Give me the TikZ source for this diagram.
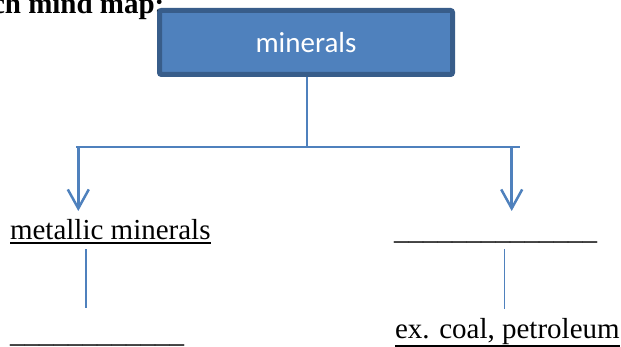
\documentclass[tikz,border=0pt]{standalone}
\usepackage{fontspec}
\setmainfont{Liberation Serif}
\newfontfamily\calibrifont{Carlito}
\usetikzlibrary{arrows.meta}
\definecolor{accent}{HTML}{4F81BD}
\definecolor{accentdark}{HTML}{385D8A}
\newcommand\myul[2][-4.9pt]{\setbox0\hbox{#2}\rlap{\rule[#1]{\wd0}{1.8pt}}\box0}
\begin{document}
\begin{tikzpicture}[x=1pt,y=-1pt,
  txt/.style={inner sep=0pt, outer sep=0pt, anchor=base west, font=\fontsize{29}{34}\selectfont},
  conn/.style={draw=accent, line width=2.2pt},
  arr/.style={draw=accent, line width=2.5pt, -{Straight Barb[length=19pt,width=21pt]}},
  thinconn/.style={draw=accent, line width=1.3pt},
  topic/.style={draw=accentdark, fill=accent, line width=5pt, rounded corners=2pt,
    minimum width=293pt, minimum height=64pt, inner sep=0pt, text=white,
    font=\calibrifont\fontsize{29}{34}\selectfont}]
\clip (0,0) rectangle (621,347);
% heading (cut off at the top/left edge)
\node[txt, font=\bfseries\fontsize{29}{34}\selectfont] (head) at (-8,14) {ch mind map:};
% main topic
\node[topic] (root) at (306,42.5) {minerals};
% junction coordinates
\coordinate (j) at (307,147);
\coordinate (hl) at (76,147);
\coordinate (hr) at (520,147);
\coordinate (al) at (78.3,147);
\coordinate (alt) at (78.3,211);
\coordinate (ar) at (511.7,147);
\coordinate (art) at (511.7,211);
% texts
\node[txt] (met) at (10,239.3) {\myul{metallic minerals}};
\node[txt] (blankr) at (394,239.5) {\_\_\_\_\_\_\_\_\_\_\_\_\_\_};
\node[txt] (blankl) at (10,342) {\_\_\_\_\_\_\_\_\_\_\_\_};
\node[txt] (ex) at (395,338) {\myul[-8.9pt]{ex. coal, petroleum}};
% thin links
\coordinate (l1) at (86,249.3);
\coordinate (l2) at (86,307.7);
\coordinate (r1) at (504.3,249.3);
\coordinate (r2) at (504.3,309.3);
% connectors
\draw[conn] (root.south -| j) -- (j);
\draw[conn] (hl) -- (hr);
\draw[arr] (al) -- (alt);
\draw[arr] (ar) -- (art);
\draw[thinconn] (l1) -- (l2);
\draw[thinconn] (r1) -- (r2);
\end{tikzpicture}
\end{document}
